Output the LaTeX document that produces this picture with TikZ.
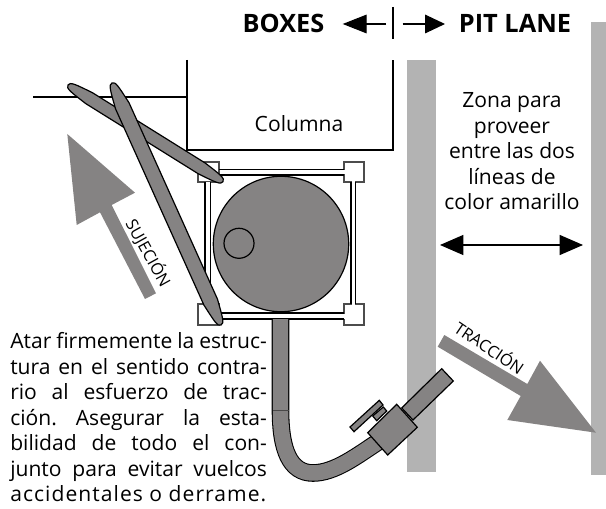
\documentclass[tikz,border=0pt]{standalone}
\usepackage{fontspec}
\setmainfont{Open Sans}
\usetikzlibrary{arrows.meta}
\definecolor{lane}{HTML}{B3B3B3}
\definecolor{body}{HTML}{858383}
\tikzset{
  x=0.75pt,y=-0.75pt,
  part/.style={draw=black,fill=body,line width=0.9pt},
  solid part/.style={fill=body},
  wire/.style={draw=black,line width=1.6pt},
  lug/.style={draw=black!70,fill=white,line width=0.8pt},
  txt/.style={inner sep=0pt,font=\fontsize{15.8}{19.1}\selectfont},
  head/.style={inner sep=0pt,font=\fontsize{19}{19}\selectfont\bfseries,anchor=base},
  tiny/.style={inner sep=0pt,font=\fontsize{12.3}{12.3}\selectfont},
}
\newcommand{\strapshape}[2]{(0,0) .. controls (0,4) and (6,4.5) .. (25,#2) -- (#1-25,#2) .. controls (#1-6,4.5) and (#1,4) .. (#1,0) .. controls (#1,-4) and (#1-6,-4.5) .. (#1-25,-#2) -- (25,-#2) .. controls (6,-4.5) and (0,-4) .. (0,0) -- cycle}
\begin{document}
\begin{tikzpicture}
\useasboundingbox (0,0) rectangle (606,509);
% lanes
\fill[lane] (407,60) rectangle (436,472);
\fill[lane] (591,22) rectangle (606,475);
% column
\draw[wire] (33,97) -- (187,97);
\draw[wire] (187,60) -- (187,150) -- (393,150) -- (393,60);
\node[txt,anchor=base] (col) at (299,132) {Columna};
% frame
\draw[lug] (198,162) rectangle (219,182);
\draw[lug] (344,162) rectangle (364,182);
\draw[lug] (198,304) rectangle (219,325);
\draw[lug] (344,304) rectangle (364,325);
\fill[white] (219.5,170.2) rectangle (343.5,174);
\fill[white] (206,182.5) rectangle (210,303.5);
\fill[white] (352.2,182.5) rectangle (355.2,303.5);
\fill[white] (219.5,314) rectangle (343.5,318.5);
\fill[white] (342,170.2) rectangle (346,174);
\fill[white] (352.2,180) rectangle (355.2,184);
\fill[white] (352.2,302) rectangle (355.2,306);
\fill[white] (342,314) rectangle (346,318.5);
\draw[black,line width=0.7pt] (219,169.5) -- (344,169.5);
\draw[black,line width=0.9pt] (355.7,182) -- (355.7,304);
\draw[black,line width=0.9pt] (219,319) -- (344,319);
\draw[black,line width=0.9pt] (210.7,182) -- (210.7,304);
\draw[wire] (205,182) -- (205,304);
\draw[wire] (219,174.7) -- (344,174.7);
\draw[wire] (351.3,182) -- (351.3,304);
\draw[wire] (219,313) -- (344,313);
% tank
\draw[part] (281,244) circle[radius=67.7];
\draw[part] (239,243.3) circle[radius=15];
% hose
\draw[black,line width=13.2pt,line cap=butt] (280.5,319) -- (280.5,410) .. controls (280.5,450) and (290,473) .. (313,473) .. controls (335,473) and (358,455) .. (378,442);
\draw[body,line width=11.6pt,line cap=butt] (280.5,319) -- (280.5,410) .. controls (280.5,450) and (290,473) .. (313,473) .. controls (335,473) and (358,455) .. (378,442);
\draw[black!45!body,line width=0.5pt] (272.5,410) -- (288.5,410);
% nozzle
\draw[part] (441.7,368.7) -- (453.3,381) -- (413,420) -- (401.7,408) -- cycle;
\draw[part] (396.7,404.3) -- (417.3,427.3) -- (387.7,455) -- (367.7,432.7) -- cycle;
\draw[part] (379.3,400.3) -- (383,405) -- (354,431.7) -- (350,427) -- cycle;
\draw[part] (383.3,407) -- (386.7,411) -- (376.7,420.7) -- (372.7,416) -- cycle;
% straps
\begin{scope}[shift={(68,85)},rotate=-31.95]
\draw[part] \strapshape{182.7}{6.4};
\end{scope}
\begin{scope}[shift={(112,83)},rotate=-65.75]
\draw[part] \strapshape{265.4}{7.4};
\end{scope}
% force arrows
\fill[solid part] (67.3,134) -- (135,192.7) -- (111.7,205) -- (156,293.3) -- (145,299) -- (100,212.3) -- (76.7,225) -- cycle;
\node[tiny,rotate=-61] (suj) at (148.5,253) {SUJECIÓN};
\fill[solid part] (444.3,335) -- (527.3,384) -- (540,360.7) -- (596,432.7) -- (507.3,420) -- (520.7,396) -- (437.7,346.7) -- cycle;
\node[tiny,rotate=-34] (trac) at (490,347) {TRACCIÓN};
% header
\node[head] (boxes) at (283.5,33) {BOXES};
\node[head] (pit) at (515,33) {PIT LANE};
\coordinate (divtop) at (393,7);
\coordinate (divbot) at (393,39);
\draw[wire] (divtop) -- (divbot);
\coordinate (la) at (386,24);
\coordinate (lb) at (342.7,24);
\coordinate (ra) at (402.7,24);
\coordinate (rb) at (445,24);
\draw[line width=0.9pt,-{Triangle[length=18pt,width=14pt]}] (la) -- (lb);
\draw[line width=0.9pt,-{Triangle[length=15pt,width=14pt]}] (ra) -- (rb);
% zone
\node[txt,align=center,anchor=north] (zona) at (512,92.5) {Zona para\\proveer\\entre las dos\\líneas de\\color amarillo};
\coordinate (da) at (440,245);
\coordinate (db) at (583,245);
\draw[line width=0.9pt,{Triangle[length=17.5pt,width=15pt]}-{Triangle[length=17.5pt,width=15pt]}] (da) -- (db);
% note
\node[txt,anchor=north west,text width=192.5pt,align=justify] (note) at (10,332.5) {\frenchspacing Atar firmemente la estruc-\linebreak tura en el sentido contra-\linebreak rio al esfuerzo de trac-\linebreak ción. Asegurar la esta-\linebreak bilidad de todo el con-\linebreak junto para evitar vuelcos\linebreak {\addfontfeatures{LetterSpace=5}accidentales o derrame.}};
\end{tikzpicture}
\end{document}
